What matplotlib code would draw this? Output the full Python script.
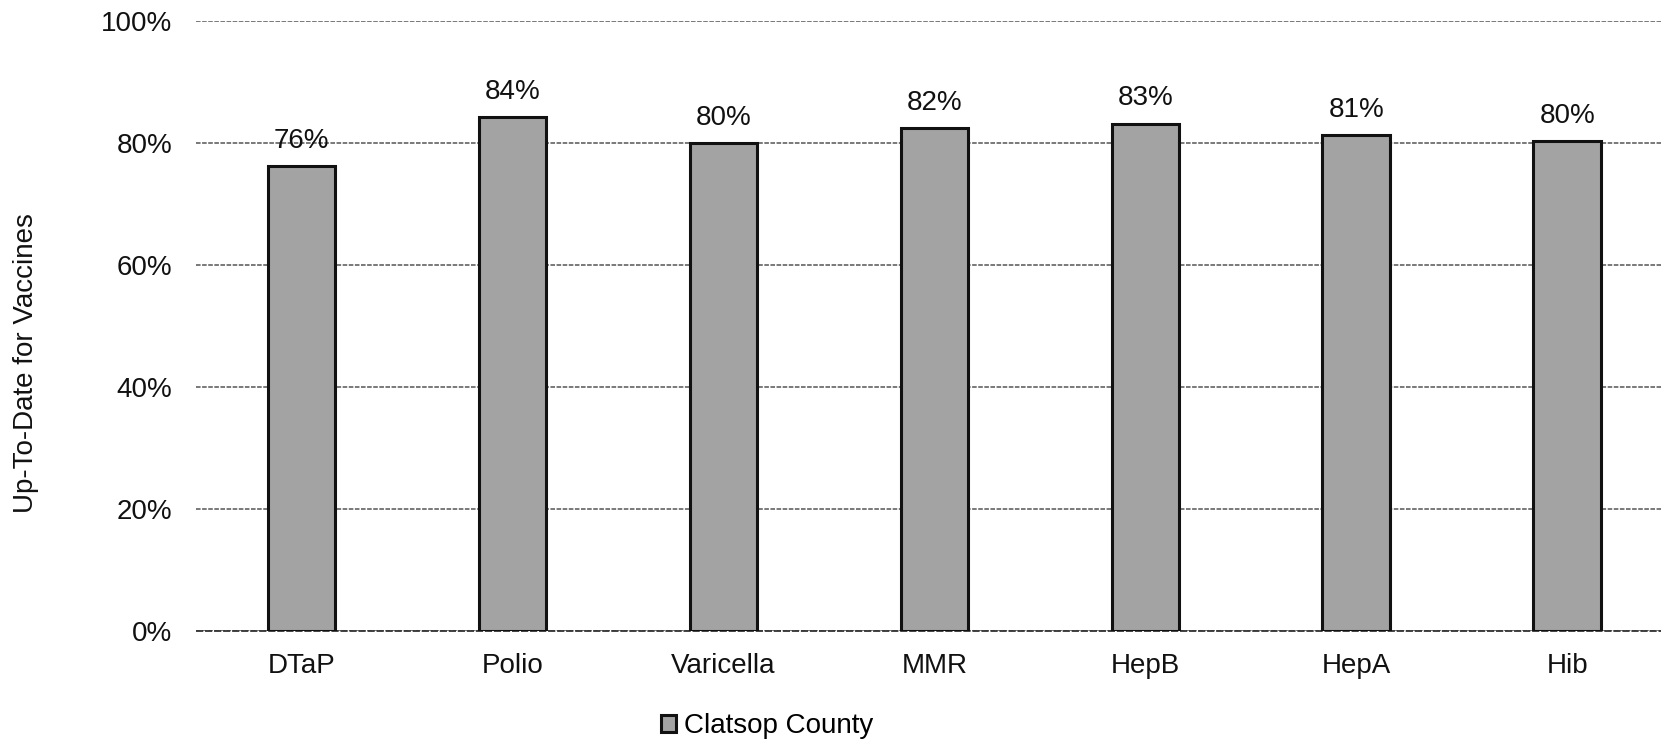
import matplotlib
matplotlib.use("Agg")
import matplotlib.pyplot as plt
from matplotlib.ticker import FuncFormatter

plt.rcParams['font.family'] = ['Liberation Sans', 'DejaVu Sans']

categories = ["DTaP", "Polio", "Varicella", "MMR", "HepB", "HepA", "Hib"]
values = [76.2, 84.3, 80.0, 82.4, 83.2, 81.3, 80.3]
labels = ["76%", "84%", "80%", "82%", "83%", "81%", "80%"]
series_name = "Clatsop County"
yticks = [0, 20, 40, 60, 80, 100]

FS = 20

fig = plt.figure(figsize=(16.61, 7.43), dpi=100)
ax = fig.add_axes([0.118, 0.1507, 0.889, 0.821])

x = range(len(categories))
bars = ax.bar(x, values, width=0.32, color="#a3a3a3", edgecolor="#111111",
              linewidth=2.2, label=series_name, zorder=3)
for b, lab in zip(bars, labels):
    ax.text(b.get_x() + b.get_width() / 2, b.get_height() + 2.0, lab,
            ha="center", va="bottom", fontsize=FS, color="#111111", zorder=4)

ax.set_xlim(-0.5, len(categories) - 0.5)
ax.set_ylim(0, 100)
ax.set_yticks(yticks)
ax.yaxis.set_major_formatter(FuncFormatter(lambda v, p: f"{v:.0f}%"))
ax.set_xticks(list(x))
ax.set_xticklabels(categories)
ax.tick_params(axis="both", length=0, labelsize=FS, colors="#111111")
ax.tick_params(axis="y", pad=17)
ax.tick_params(axis="x", pad=16)
ax.grid(axis="y", color="#555555", linewidth=1.1, linestyle=(0, (3, 1)), zorder=0)
ax.axhline(0, color="#333333", linewidth=1.3, linestyle=(0, (4, 1)), zorder=2, clip_on=False)
for s in ax.spines.values():
    s.set_visible(False)

fig.text(26 / 1661, 1 - 363 / 743, "Up-To-Date for Vaccines", rotation=90,
         ha="center", va="center", fontsize=FS, color="#111111")

fig.legend(loc="center", bbox_to_anchor=(767 / 1661, 1 - 726 / 743),
           frameon=False, fontsize=FS, handlelength=0.55, handleheight=0.55,
           handletextpad=0.3)

fig.savefig("out.png", dpi=100)
